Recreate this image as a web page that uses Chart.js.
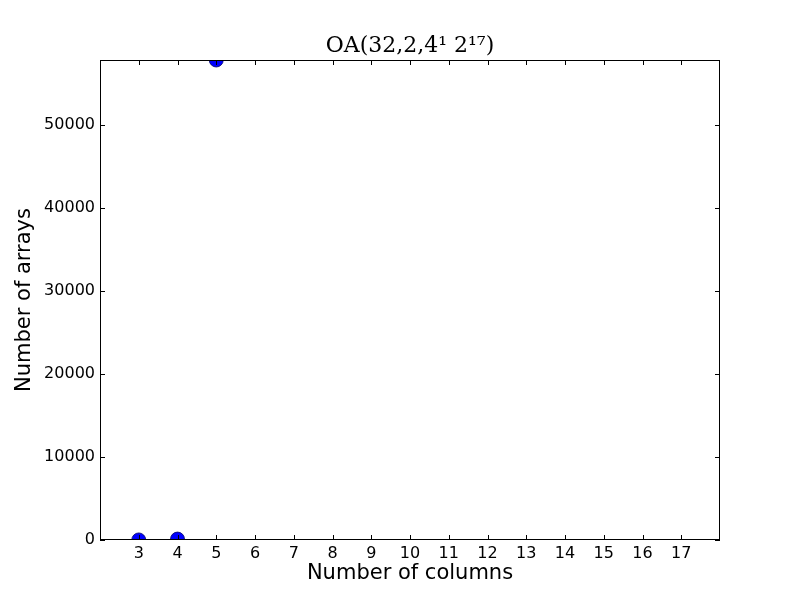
<!DOCTYPE html>
<html>
<head>
<meta charset="utf-8">
<script src="https://cdn.jsdelivr.net/npm/chart.js@4"></script>
<style>
  body { margin: 0; background: #fff; }
  #wrap { width: 800px; height: 600px; }
</style>
</head>
<body>
<div id="wrap"><canvas id="oaChart" width="800" height="600"></canvas></div>
<script>
const chartTitle = 'OA(32,2,4\u00b9 2\u00b9\u2077)';
const columns = [3, 4, 5];
const arrays = [8, 112, 57800];
const xTicks = [3, 4, 5, 6, 7, 8, 9, 10, 11, 12, 13, 14, 15, 16, 17];
const yTicks = [0, 10000, 20000, 30000, 40000, 50000];

// matplotlib-like frame with inward ticks on all four sides, title over the plot area
const frame = {
    id: 'frame',
    afterDatasetsDraw(chart) {
        const { ctx, chartArea: a, scales } = chart;
        ctx.save();
        ctx.strokeStyle = '#000';
        ctx.lineWidth = 1;
        ctx.strokeRect(a.left + 0.5, a.top + 0.5, a.right - a.left - 1, a.bottom - a.top - 1);
        ctx.beginPath();
        xTicks.forEach(v => {
            const x = Math.round(scales.x.getPixelForValue(v)) + 0.5;
            ctx.moveTo(x, a.bottom); ctx.lineTo(x, a.bottom - 5);
            ctx.moveTo(x, a.top); ctx.lineTo(x, a.top + 5);
        });
        yTicks.forEach(v => {
            const y = Math.round(scales.y.getPixelForValue(v)) + 0.5;
            ctx.moveTo(a.left, y); ctx.lineTo(a.left + 5, y);
            ctx.moveTo(a.right, y); ctx.lineTo(a.right - 5, y);
        });
        ctx.stroke();
        ctx.fillStyle = '#000';
        ctx.font = '22px "DejaVu Serif"';
        ctx.textAlign = 'center';
        ctx.textBaseline = 'alphabetic';
        ctx.fillText(chartTitle, (a.left + a.right) / 2, a.top - 8);
        ctx.restore();
    }
};

new Chart(document.getElementById('oaChart').getContext('2d'), {
    type: 'scatter',
    data: {
        datasets: [{
            data: columns.map((c, i) => ({ x: c, y: arrays[i] })),
            backgroundColor: '#0000ff',
            borderColor: '#000066',
            borderWidth: 0.8,
            pointRadius: 7,
            pointHoverRadius: 7,
            clip: 0
        }]
    },
    options: {
        responsive: false,
        animation: false,
        layout: { padding: { left: 0, right: 80, top: 60, bottom: 0 } },
        plugins: {
            legend: { display: false },
            tooltip: { enabled: false },
            title: { display: false }
        },
        scales: {
            x: {
                type: 'linear',
                min: 2,
                max: 18,
                afterFit(s) { s.height = 60; },
                afterBuildTicks(s) { s.ticks = xTicks.map(v => ({ value: v })); },
                grid: { display: false, drawTicks: false },
                border: { display: false },
                ticks: {
                    color: '#000',
                    padding: 4,
                    font: { family: 'DejaVu Sans', size: 16 },
                    callback: v => String(v)
                },
                title: {
                    display: true,
                    text: 'Number of columns',
                    color: '#000',
                    font: { family: 'DejaVu Sans', size: 21 },
                    padding: { top: 0, bottom: 14 }
                }
            },
            y: {
                min: 0,
                max: 57800,
                afterFit(s) { s.width = 100; },
                afterBuildTicks(s) { s.ticks = yTicks.map(v => ({ value: v })); },
                grid: { display: false, drawTicks: false },
                border: { display: false },
                ticks: {
                    color: '#000',
                    padding: 5,
                    font: { family: 'DejaVu Sans', size: 16 },
                    callback: v => String(v)
                },
                title: {
                    display: true,
                    text: 'Number of arrays',
                    color: '#000',
                    font: { family: 'DejaVu Sans', size: 21 },
                    padding: { top: 12, bottom: 0 }
                }
            }
        }
    },
    plugins: [frame]
});
</script>
</body>
</html>
